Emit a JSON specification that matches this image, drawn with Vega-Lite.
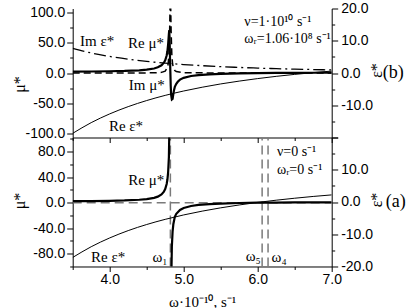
{
  "$schema": "https://vega.github.io/schema/vega-lite/v6.json",
  "background": "white",
  "padding": {"left": 10.7, "top": 1.5, "right": 5, "bottom": 5},
  "spacing": 0,
  "bounds": "flush",
  "config": {
    "view": {"stroke": null},
    "axis": {
      "grid": false, "domainColor": "#000", "tickColor": "#000", "labelColor": "#000", "titleColor": "#000",
      "labelFont": "Liberation Sans", "labelFontSize": 14, "titleFont": "Liberation Serif", "titleFontWeight": "normal",
      "titleFontSize": 16, "labelOverlap": false, "labelFlush": false, "domainWidth": 1, "tickWidth": 1
    },
    "text": {"font": "Liberation Serif", "fontSize": 15, "color": "#000"}
  },
  "datasets": {
    "b_remu": [
      {"w":3.5,"v":2.2},{"w":3.75,"v":2.5},{"w":4.0,"v":2.9},{"w":4.2,"v":3.4},{"w":4.4,"v":4.5},{"w":4.5,"v":5.5},
      {"w":4.6,"v":7.5},{"w":4.65,"v":9.4},{"w":4.7,"v":12.8},{"w":4.73,"v":16.7},{"w":4.75,"v":21},{"w":4.77,"v":29},
      {"w":4.78,"v":36},{"w":4.79,"v":48},{"w":4.8,"v":65},{"w":4.805,"v":71},{"w":4.81,"v":55},{"w":4.815,"v":25},
      {"w":4.82,"v":1},{"w":4.825,"v":-22},{"w":4.83,"v":-36},{"w":4.84,"v":-44},{"w":4.85,"v":-43},{"w":4.86,"v":-35},
      {"w":4.87,"v":-28},{"w":4.88,"v":-23},{"w":4.9,"v":-18},{"w":4.92,"v":-14.5},{"w":4.95,"v":-11},{"w":5.0,"v":-8},
      {"w":5.1,"v":-5},{"w":5.2,"v":-3.5},{"w":5.35,"v":-2.2},{"w":5.5,"v":-1.4},{"w":5.75,"v":-0.7},{"w":6.0,"v":-0.3},
      {"w":6.25,"v":0.05},{"w":6.5,"v":0.25},{"w":6.75,"v":0.4},{"w":7.0,"v":0.5}
    ],
    "b_immu": [
      {"w":3.5,"v":0.01},{"w":4.0,"v":0.03},{"w":4.5,"v":0.16},{"w":4.6,"v":0.33},{"w":4.7,"v":1.1},{"w":4.75,"v":3.1},
      {"w":4.78,"v":9},{"w":4.79,"v":15.2},{"w":4.8,"v":29.7},{"w":4.81,"v":69.8},{"w":4.815,"v":105},{"w":4.82,"v":127},
      {"w":4.825,"v":105},{"w":4.83,"v":69.6},{"w":4.84,"v":29.5},{"w":4.85,"v":15},{"w":4.86,"v":8.9},{"w":4.88,"v":4.1},
      {"w":4.9,"v":2.3},{"w":5.0,"v":0.46},{"w":5.5,"v":0.03},{"w":7.0,"v":0}
    ],
    "b_reeps": [
      {"w":3.5,"v":-18.71},{"w":3.75,"v":-15.39},{"w":4.0,"v":-12.68},{"w":4.25,"v":-10.43},{"w":4.5,"v":-8.54},
      {"w":4.75,"v":-6.94},{"w":5.0,"v":-5.58},{"w":5.25,"v":-4.41},{"w":5.5,"v":-3.39},{"w":5.75,"v":-2.51},
      {"w":6.0,"v":-1.73},{"w":6.25,"v":-1.04},{"w":6.5,"v":-0.43},{"w":6.75,"v":0.11},{"w":7.0,"v":0.6}
    ],
    "b_imeps": [
      {"w":3.5,"v":7.65},{"w":3.75,"v":6.22},{"w":4.0,"v":5.13},{"w":4.25,"v":4.27},{"w":4.5,"v":3.6},
      {"w":4.75,"v":3.06},{"w":5.0,"v":2.62},{"w":5.25,"v":2.27},{"w":5.5,"v":1.97},{"w":5.75,"v":1.73},
      {"w":6.0,"v":1.52},{"w":6.25,"v":1.34},{"w":6.5,"v":1.19},{"w":6.75,"v":1.07},{"w":7.0,"v":0.96}
    ],
    "b_text": [
      {"w":3.83,"v":53,"t":"Im ε*"},{"w":4.49,"v":50,"t":"Re μ*"},{"w":4.5,"v":-20,"t":"Im μ*"},{"w":4.22,"v":-88,"t":"Re ε*"}
    ],
    "b_params": [
      {"w":5.82,"v":84.6,"t":"ν=1·10¹⁰ s⁻¹"},{"w":5.82,"v":57,"t":"ωᵣ=1.06·10⁸ s⁻¹"}
    ],
    "a_remu": [
      {"w":3.5,"v":2.23,"b":"u"},{"w":3.75,"v":2.47,"b":"u"},{"w":4.0,"v":2.87,"b":"u"},{"w":4.2,"v":3.41,"b":"u"},
      {"w":4.4,"v":4.49,"b":"u"},{"w":4.5,"v":5.53,"b":"u"},{"w":4.6,"v":7.51,"b":"u"},{"w":4.65,"v":9.39,"b":"u"},
      {"w":4.7,"v":12.82,"b":"u"},{"w":4.73,"v":16.7,"b":"u"},{"w":4.75,"v":21.15,"b":"u"},{"w":4.77,"v":29.15,"b":"u"},
      {"w":4.78,"v":36.16,"b":"u"},{"w":4.79,"v":47.83,"b":"u"},{"w":4.8,"v":71.2,"b":"u"},{"w":4.81,"v":141.2,"b":"u"},
      {"w":4.83,"v":-138.9,"b":"l"},{"w":4.84,"v":-68.9,"b":"l"},{"w":4.85,"v":-45.5,"b":"l"},{"w":4.86,"v":-33.9,"b":"l"},
      {"w":4.88,"v":-22.2,"b":"l"},{"w":4.9,"v":-17.5,"b":"l"},{"w":4.95,"v":-11.5,"b":"l"},{"w":5.0,"v":-8.5,"b":"l"},
      {"w":5.1,"v":-5.2,"b":"l"},{"w":5.2,"v":-3.6,"b":"l"},{"w":5.35,"v":-2.2,"b":"l"},{"w":5.5,"v":-1.4,"b":"l"},
      {"w":5.75,"v":-0.6,"b":"l"},{"w":6.0,"v":-0.1,"b":"l"},{"w":6.25,"v":0.15,"b":"l"},{"w":6.5,"v":0.29,"b":"l"},
      {"w":6.75,"v":0.4,"b":"l"},{"w":7.0,"v":0.48,"b":"l"}
    ],
    "a_dashed": [
      {"w":3.5,"v":0,"id":"zero"},{"w":7.0,"v":0,"id":"zero"},
      {"w":4.82,"v":-100,"id":"w1"},{"w":4.82,"v":102,"id":"w1"},
      {"w":6.06,"v":-100,"id":"w5"},{"w":6.06,"v":102,"id":"w5"},
      {"w":6.14,"v":-100,"id":"w4"},{"w":6.14,"v":102,"id":"w4"}
    ],
    "a_reeps": [
      {"w":3.5,"v":-17.2},{"w":3.75,"v":-13.87},{"w":4.0,"v":-11.14},{"w":4.25,"v":-8.87},{"w":4.5,"v":-6.98},
      {"w":4.75,"v":-5.38},{"w":5.0,"v":-4.01},{"w":5.25,"v":-2.83},{"w":5.5,"v":-1.81},{"w":5.75,"v":-0.92},
      {"w":6.0,"v":-0.13},{"w":6.25,"v":0.56},{"w":6.5,"v":1.17},{"w":6.75,"v":1.72},{"w":7.0,"v":2.2}
    ],
    "a_text": [
      {"w":4.495,"v":35.6,"t":"Re μ*"},{"w":3.98,"v":-84.4,"t":"Re ε*"},{"w":4.68,"v":-85.6,"t":"ω₁"},
      {"w":5.94,"v":-84,"t":"ω₅"},{"w":6.29,"v":-85,"t":"ω₄"}
    ],
    "a_params": [
      {"w":6.26,"v":79.3,"t":"ν=0 s⁻¹"},{"w":6.26,"v":51.2,"t":"ωᵣ=0 s⁻¹"}
    ]
  },
  "vconcat": [
    {
      "width": 259, "height": 129,
      "title": {"text": "(b)", "orient": "right", "angle": 0, "frame": "group", "offset": -23, "align": "left", "baseline": "middle", "font": "Liberation Serif", "fontSize": 18, "fontWeight": "normal", "color": "#000"},
      "layer": [
        {
          "encoding": {
            "x": {"field": "w", "type": "quantitative", "scale": {"domain": [3.5, 7.0], "nice": false, "zero": false},
                  "axis": {"values": [3.5,4,4.5,5,5.5,6,6.5,7], "labels": false, "title": null,
                           "tickSize": {"condition": {"test": "datum.value % 1 === 0", "value": 5}, "value": 3}}},
            "y": {"field": "v", "type": "quantitative", "scale": {"domain": [-107, 107], "nice": false, "zero": false},
                  "axis": {"orient": "left", "values": [-100,-75,-50,-25,0,25,50,75,100],
                           "labelExpr": "datum.value % 50 === 0 ? replace(format(datum.value, '.1f'), '\u2212', '-') : ''",
                           "tickSize": {"condition": {"test": "datum.value % 50 === 0", "value": 6}, "value": 3},
                           "labelPadding": 2, "title": "μ*", "titleX": -53.5, "titleY": 75.5, "titleAngle": 270,
                           "titleAlign": "center", "titleBaseline": "middle"}}
          },
          "layer": [
            {"data": {"name": "b_immu"}, "mark": {"type": "line", "clip": true, "color": "#000", "strokeWidth": 1.5, "strokeDash": [7, 4]}},
            {"data": {"name": "b_remu"}, "mark": {"type": "line", "clip": true, "color": "#000", "strokeWidth": 2.2}},
            {"data": {"name": "b_text"}, "mark": {"type": "text", "align": "center", "baseline": "middle"}, "encoding": {"text": {"field": "t"}}},
            {"data": {"name": "b_params"}, "mark": {"type": "text", "align": "left", "baseline": "middle", "fontSize": 14}, "encoding": {"text": {"field": "t"}}}
          ]
        },
        {
          "encoding": {
            "x": {"field": "w", "type": "quantitative", "scale": {"domain": [3.5, 7.0], "nice": false, "zero": false},
                  "axis": {"values": [3.5,4,4.5,5,5.5,6,6.5,7], "labels": false, "title": null,
                           "tickSize": {"condition": {"test": "datum.value % 1 === 0", "value": 5}, "value": 3}}},
            "y": {"field": "v", "type": "quantitative", "scale": {"domain": [-20, 20], "nice": false, "zero": false},
                  "axis": {"orient": "right", "values": [-20,-15,-10,-5,0,5,10,15,20],
                           "labelExpr": "(datum.value % 10 === 0 && datum.value > -20) ? replace(format(datum.value, '.1f'), '\u2212', '-') : ''",
                           "tickSize": {"condition": {"test": "datum.value % 10 === 0", "value": 6}, "value": 3},
                           "labelPadding": 3, "title": "ε*", "titleX": 45, "titleY": 61.5, "titleAngle": 270,
                           "titleAlign": "center", "titleBaseline": "middle"}}
          },
          "layer": [
            {"data": {"name": "b_reeps"}, "mark": {"type": "line", "clip": true, "color": "#000", "strokeWidth": 1, "interpolate": "monotone"}},
            {"data": {"name": "b_imeps"}, "mark": {"type": "line", "clip": true, "color": "#000", "strokeWidth": 1.3, "strokeDash": [12, 4, 2, 4], "interpolate": "monotone"}}
          ]
        }
      ],
      "resolve": {"scale": {"y": "independent"}}
    },
    {
      "width": 259, "height": 129,
      "title": {"text": "(a)", "orient": "right", "angle": 0, "frame": "group", "offset": -19, "align": "left", "baseline": "middle", "font": "Liberation Serif", "fontSize": 18, "fontWeight": "normal", "color": "#000"},
      "layer": [
        {
          "encoding": {
            "x": {"field": "w", "type": "quantitative", "scale": {"domain": [3.5, 7.0], "nice": false, "zero": false},
                  "axis": {"values": [3.5,4,4.5,5,5.5,6,6.5,7],
                           "labelExpr": "datum.value % 1 === 0 ? format(datum.value, '.1f') : ''",
                           "tickSize": {"condition": {"test": "datum.value % 1 === 0", "value": 5}, "value": 3},
                           "labelPadding": 1, "title": "ω·10⁻¹⁰, s⁻¹", "titlePadding": 8, "titleFontSize": 15}},
            "y": {"field": "v", "type": "quantitative", "scale": {"domain": [-100, 102], "nice": false, "zero": false},
                  "axis": {"orient": "left", "values": [-100,-80,-60,-40,-20,0,20,40,60,80,100],
                           "labelExpr": "(datum.value % 40 === 0 && abs(datum.value) < 100) ? replace(format(datum.value, '.1f'), '\u2212', '-') : ''",
                           "tickSize": {"condition": {"test": "datum.value % 40 === 0", "value": 6}, "value": 3},
                           "labelPadding": 2, "title": "μ*", "titleX": -53.5, "titleY": 63, "titleAngle": 270,
                           "titleAlign": "center", "titleBaseline": "middle"}}
          },
          "layer": [
            {"data": {"name": "a_dashed"}, "mark": {"type": "line", "clip": true, "color": "#7a7a7a", "strokeWidth": 1.5, "strokeDash": [9, 5]}, "encoding": {"detail": {"field": "id"}}},
            {"data": {"name": "a_remu"}, "mark": {"type": "line", "clip": true, "color": "#000", "strokeWidth": 2.2}, "encoding": {"detail": {"field": "b"}}},
            {"data": {"name": "a_text"}, "mark": {"type": "text", "align": "center", "baseline": "middle"}, "encoding": {"text": {"field": "t"}}},
            {"data": {"name": "a_params"}, "mark": {"type": "text", "align": "left", "baseline": "middle", "fontSize": 14}, "encoding": {"text": {"field": "t"}}}
          ]
        },
        {
          "encoding": {
            "x": {"field": "w", "type": "quantitative", "scale": {"domain": [3.5, 7.0], "nice": false, "zero": false},
                  "axis": {"values": [3.5,4,4.5,5,5.5,6,6.5,7],
                           "labelExpr": "datum.value % 1 === 0 ? format(datum.value, '.1f') : ''",
                           "tickSize": {"condition": {"test": "datum.value % 1 === 0", "value": 5}, "value": 3},
                           "labelPadding": 1, "title": "ω·10⁻¹⁰, s⁻¹", "titlePadding": 8, "titleFontSize": 15}},
            "y": {"field": "v", "type": "quantitative", "scale": {"domain": [-20, 20], "nice": false, "zero": false},
                  "axis": {"orient": "right", "values": [-20,-15,-10,-5,0,5,10,15,20],
                           "labelExpr": "(datum.value % 10 === 0 && datum.value < 20) ? replace(format(datum.value, '.1f'), '\u2212', '-') : ''",
                           "tickSize": {"condition": {"test": "datum.value % 10 === 0", "value": 6}, "value": 3},
                           "labelPadding": 3, "title": "ε*", "titleX": 45, "titleY": 62, "titleAngle": 270,
                           "titleAlign": "center", "titleBaseline": "middle"}}
          },
          "layer": [
            {"data": {"name": "a_reeps"}, "mark": {"type": "line", "clip": true, "color": "#000", "strokeWidth": 1, "interpolate": "monotone"}}
          ]
        }
      ],
      "resolve": {"scale": {"y": "independent"}}
    }
  ]
}
